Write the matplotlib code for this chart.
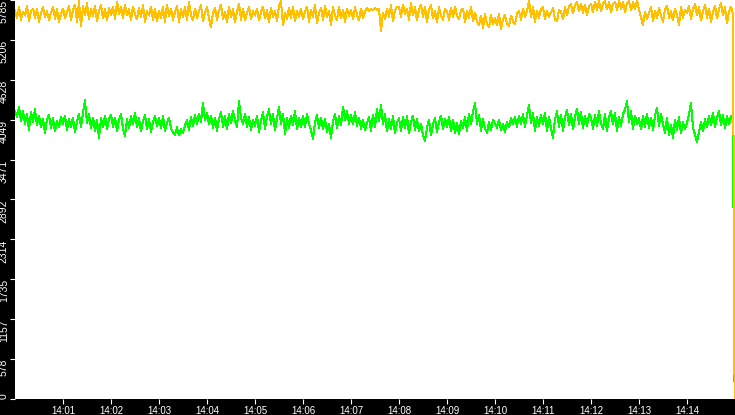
import numpy as np
import matplotlib
matplotlib.use("Agg")
import matplotlib.pyplot as plt

# ---- data ----
y_max = 5785
y_tick_labels = ["0", "578", "1157", "1735", "2314", "2892", "3471", "4049", "4628", "5206", "5785"]
x_tick_labels = ["14:01", "14:02", "14:03", "14:04", "14:05", "14:06", "14:07",
                 "14:08", "14:09", "14:10", "14:11", "14:12", "14:13", "14:14"]
sample_step_s = 2.5          # seconds between samples, starting 14:00:00
end_time_s = 899.5           # final (drop-to-zero) sample
end_value = 0

yellow = [
    5640, 5520, 5690, 5500, 5610, 5560, 5700, 5480, 5620, 5660, 5530, 5650, 5470, 5590, 5680, 5540, 5630, 5490, 5600, 5690, 5510, 5650, 5470, 5580,
    5660, 5530, 5610, 5700, 5500, 5640, 5720, 5460, 5770, 5400, 5700, 5560, 5740, 5510, 5660, 5550, 5700, 5480, 5630, 5710, 5520, 5650, 5490, 5670,
    5560, 5690, 5510, 5760, 5580, 5680, 5520, 5720, 5560, 5650, 5490, 5690, 5570, 5510, 5670, 5540, 5710, 5470, 5620, 5560, 5690, 5500, 5650, 5480,
    5630, 5520, 5680, 5460, 5720, 5550, 5660, 5500, 5610, 5700, 5470, 5650, 5540, 5680, 5500, 5750, 5570, 5490, 5660, 5530, 5620, 5710, 5480, 5600,
    5680, 5520, 5390, 5590, 5670, 5500, 5630, 5720, 5510, 5610, 5470, 5680, 5540, 5650, 5460, 5610, 5730, 5500, 5660, 5490, 5600, 5690, 5510, 5620,
    5560, 5660, 5490, 5610, 5690, 5520, 5640, 5460, 5670, 5540, 5630, 5480, 5700, 5770, 5420, 5600, 5510, 5670, 5530, 5690, 5480, 5620, 5540, 5660,
    5510, 5620, 5690, 5470, 5640, 5540, 5720, 5450, 5600, 5670, 5500, 5700, 5540, 5630, 5420, 5680, 5560, 5490, 5690, 5520, 5640, 5470, 5660, 5560,
    5640, 5510, 5680, 5570, 5490, 5660, 5530, 5620, 5670, 5630, 5650, 5640, 5670, 5640, 5660, 5340, 5600, 5510, 5660, 5540, 5710, 5480, 5640, 5690,
    5690, 5540, 5720, 5580, 5660, 5500, 5740, 5560, 5680, 5490, 5650, 5720, 5540, 5680, 5470, 5640, 5710, 5520, 5630, 5460, 5680, 5560, 5500, 5660,
    5620, 5500, 5670, 5540, 5690, 5560, 5510, 5640, 5660, 5470, 5620, 5530, 5690, 5480, 5600, 5470, 5420, 5560, 5380, 5580, 5440, 5390, 5570, 5430,
    5530, 5420, 5580, 5370, 5500, 5570, 5440, 5410, 5560, 5480, 5430, 5590, 5620, 5500, 5660, 5540, 5620, 5770, 5540, 5680, 5470, 5630, 5520, 5660,
    5680, 5510, 5630, 5540, 5600, 5670, 5500, 5480, 5640, 5620, 5510, 5680, 5560, 5690, 5730, 5590, 5710, 5760, 5620, 5730, 5600, 5720, 5570, 5700,
    5730, 5610, 5760, 5640, 5770, 5620, 5740, 5770, 5650, 5750, 5610, 5730, 5760, 5640, 5770, 5660, 5750, 5610, 5730, 5770, 5640, 5750, 5660, 5785,
    5640, 5540, 5420, 5610, 5510, 5600, 5680, 5480, 5630, 5520, 5670, 5560, 5470, 5640, 5700, 5530, 5620, 5490, 5660, 5570, 5420, 5680, 5530, 5640,
    5600, 5700, 5510, 5650, 5730, 5560, 5680, 5490, 5620, 5720, 5530, 5660, 5470, 5610, 5700, 5520, 5650, 5740, 5560, 5680, 5450, 5620, 5690, 5580,
]

green = [
    4180, 4090, 4230, 4030, 4170, 3990, 4130, 3900, 4160, 4020, 4200, 3970, 4110, 3940, 4060, 3860, 4050, 4120, 3930, 4070, 3880, 4030, 3950, 4090,
    3990, 4110, 3900, 4060, 3940, 4080, 3870, 4020, 4130, 3950, 4150, 4330, 4000, 4140, 3930, 4080, 3890, 4040, 3790, 4070, 3940, 4110, 3910, 4060,
    4120, 3950, 4080, 3890, 4040, 4130, 3920, 3810, 4060, 3930, 4100, 3980, 4150, 3940, 4070, 3880, 4030, 4120, 3920, 4060, 3870, 4010, 4100, 3960,
    4070, 3930, 4100, 3890, 4010, 4080, 3920, 3860, 3830, 3940, 3820, 3910, 3860, 3970, 4040, 3900, 4090, 3960, 4120, 3990, 4140, 4020, 4290, 4050,
    4150, 3980, 4110, 3930, 4080, 3890, 4060, 4160, 3950, 4100, 3910, 4130, 4000, 4180, 4040, 3940, 4320, 4080, 3980, 4140, 3940, 4090, 3900, 4050,
    3960, 4110, 3870, 4040, 4160, 3920, 4090, 4200, 3980, 4130, 3900, 4070, 4230, 3990, 4140, 3840, 4070, 3930, 4110, 3970, 4180, 3910, 4080, 3950,
    4100, 3950, 4130, 3990, 3900, 3770, 4010, 4120, 3930, 4080, 3910, 4060, 3870, 3990, 3780, 4030, 4130, 3930, 4100, 3970, 4240, 4040, 4170, 3990,
    4120, 3980, 4160, 3960, 4080, 3920, 4050, 3900, 4000, 4090, 3890, 4120, 3950, 4200, 4030, 4260, 3990, 4130, 3880, 4060, 3920, 4100, 3850, 4010,
    4070, 3890, 4090, 3930, 4100, 3850, 4020, 4110, 3900, 4060, 3880, 3990, 3820, 3740, 3930, 4050, 3830, 3980, 4080, 3870, 4020, 4110, 3910, 4060,
    3950, 4090, 3880, 4050, 3860, 4000, 3840, 4030, 3930, 4090, 3880, 4140, 3980, 4170, 4290, 3990, 4120, 3890, 4060, 3920, 3860, 4010, 3900, 4050,
    4000, 3930, 4050, 3900, 3990, 3870, 4010, 3940, 4070, 3980, 4090, 3950, 4110, 3990, 4130, 3950, 4110, 4270, 4000, 4150, 3890, 4090, 3960, 4120,
    3990, 4150, 3890, 4090, 3930, 3790, 4060, 4170, 3950, 4120, 3890, 4090, 4190, 3970, 4130, 3910, 4090, 4210, 3990, 4160, 3930, 4110, 3960, 4130,
    4080, 3920, 4120, 3960, 4170, 4000, 3910, 4130, 3880, 4080, 4170, 3980, 4150, 3890, 4090, 3960, 4130, 4190, 4320, 4010, 4170, 3920, 4110, 3980,
    4070, 3910, 4100, 3950, 4140, 3930, 4080, 3900, 4110, 4220, 3960, 4140, 3990, 3860, 4070, 3830, 3980, 3790, 4040, 3900, 4090, 3850, 4010, 3910,
    4000, 4130, 4290, 3940, 3830, 3720, 3870, 4010, 3880, 4060, 3940, 4100, 3970, 4150, 3950, 4080, 4170, 3970, 4120, 3930, 4100, 3980, 4110, 4030,
]

# ---- figure ----
W, H = 735, 415
plt.rcParams["font.family"] = ["Liberation Sans", "DejaVu Sans"]
fig = plt.figure(figsize=(W / 100, H / 100), dpi=100, facecolor="black")
ax = fig.add_axes([15 / W, 16 / H, 720 / W, 399 / H])
ax.set_facecolor("white")

n = len(yellow)
t = np.arange(n) * sample_step_s
t_full = np.append(t, end_time_s)
g_full = np.append(np.array(green, dtype=float), end_value)
y_full = np.append(np.array(yellow, dtype=float), end_value)

ax.plot(t_full, g_full, color="#00FF00", lw=0.72, antialiased=False)
ax.plot(t_full, y_full, color="#FFC000", lw=0.72, antialiased=False)

ax.set_xlim(0, 900)
ax.set_ylim(0, y_max)

for s in ax.spines.values():
    s.set_visible(False)

yt = [y_max * i / 10 for i in range(len(y_tick_labels))]
ax.set_yticks(yt)
ax.set_yticklabels(y_tick_labels, rotation=90, va="top", ha="right")
ax.get_yticklabels()[0].set_va("bottom")

xt = [60 * (i + 1) for i in range(len(x_tick_labels))]
ax.set_xticks(xt)
ax.set_xticklabels(x_tick_labels)

ax.tick_params(axis="both", colors="white", labelcolor="white", labelsize=7.5,
               length=3.6, width=0.8, direction="out")
ax.tick_params(axis="y", pad=0.8)
ax.tick_params(axis="x", labelsize=7, pad=1.2)

fig.savefig("out.png", dpi=100, facecolor="black")
